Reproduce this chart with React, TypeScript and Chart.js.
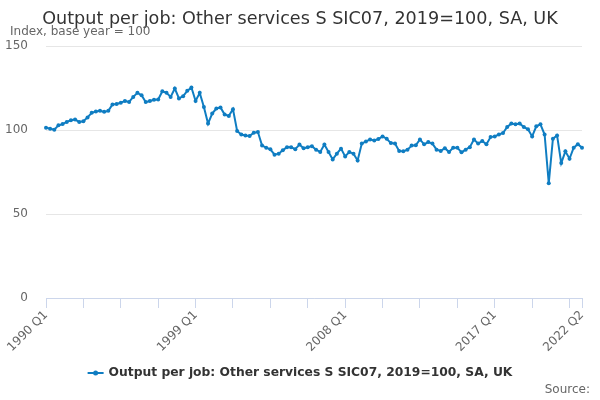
import { useEffect, useRef } from "react";
import { Chart, registerables } from "chart.js";

Chart.register(...registerables);

const chartTitle = "Output per job: Other services S SIC07, 2019=100, SA, UK";
const yAxisTitle = "Index, base year = 100";
const seriesName = "Output per job: Other services S SIC07, 2019=100, SA, UK";

const years = [
  1990, 1991, 1992, 1993, 1994, 1995, 1996, 1997, 1998, 1999, 2000, 2001, 2002, 2003, 2004, 2005, 2006,
  2007, 2008, 2009, 2010, 2011, 2012, 2013, 2014, 2015, 2016, 2017, 2018, 2019, 2020, 2021, 2022,
];
const quarters: string[] = years.flatMap((y) => [`${y} Q1`, `${y} Q2`, `${y} Q3`, `${y} Q4`]).slice(0, 130);

const shownLabels = ["1990 Q1", "1999 Q1", "2008 Q1", "2017 Q1", "2022 Q2"];

// 1990 Q1 .. 2022 Q2
const outputPerJob = [
  101.4, 100.8, 100.2, 102.8, 103.5, 104.8, 105.8, 106.2, 104.8, 105.2,
  107.5, 110.2, 111.0, 111.4, 110.8, 111.4, 115.2, 115.5, 116.2, 117.3,
  116.7, 119.7, 122.1, 120.7, 116.6, 117.3, 118.0, 118.2, 123.1, 122.1,
  119.7, 124.7, 118.8, 120.1, 123.3, 125.3, 117.3, 122.1, 113.7, 103.8,
  109.8, 112.8, 113.4, 109.2, 108.4, 112.4, 99.4, 97.3, 96.7, 96.4,
  98.4, 98.8, 90.7, 89.5, 88.5, 85.3, 85.9, 87.9, 89.8, 89.7,
  88.6, 91.3, 89.1, 89.8, 90.4, 88.3, 86.9, 91.3, 86.9, 82.5,
  85.9, 88.9, 84.3, 86.9, 85.9, 81.9, 91.9, 93.2, 94.3, 93.8,
  94.6, 96.2, 94.8, 92.2, 91.9, 87.5, 87.3, 88.3, 90.7, 90.9,
  94.4, 91.5, 92.8, 91.9, 88.3, 87.5, 89.2, 86.9, 89.5, 89.5,
  86.7, 88.3, 89.8, 94.4, 91.9, 93.5, 91.5, 95.8, 96.2, 97.3,
  98.2, 101.8, 103.8, 103.4, 103.8, 101.8, 100.4, 96.2, 102.2, 103.4,
  97.3, 68.3, 94.8, 96.8, 80.3, 87.3, 82.9, 89.5, 91.5, 89.5,
];

const lineColor = "#0f7dc2";

// title, axis title, legend and source line
const textPlugin = {
  id: "texts",
  afterDraw(chart: any) {
    const { ctx } = chart;
    ctx.save();
    ctx.fillStyle = "#333333";
    ctx.font = '17.6px "DejaVu Sans", sans-serif';
    ctx.textAlign = "center";
    ctx.textBaseline = "middle";
    ctx.fillText(chartTitle, 300, 19);

    ctx.fillStyle = "#666666";
    ctx.font = '12px "DejaVu Sans", sans-serif';
    ctx.textAlign = "left";
    ctx.fillText(yAxisTitle, 10, 32);
    ctx.textAlign = "right";
    ctx.fillText("Source:", 590, 390);

    // legend
    ctx.font = 'bold 12.3px "DejaVu Sans", sans-serif';
    const tw = ctx.measureText(seriesName).width;
    const total = 16 + 5 + tw;
    const x0 = 300 - total / 2;
    const ly = 373;
    ctx.strokeStyle = lineColor;
    ctx.lineWidth = 2;
    ctx.beginPath();
    ctx.moveTo(x0, ly);
    ctx.lineTo(x0 + 16, ly);
    ctx.stroke();
    ctx.fillStyle = lineColor;
    ctx.beginPath();
    ctx.arc(x0 + 8, ly, 2.5, 0, Math.PI * 2);
    ctx.fill();
    ctx.fillStyle = "#333333";
    ctx.textAlign = "left";
    ctx.fillText(seriesName, x0 + 21, ly);
    ctx.restore();
  },
};

export default function App() {
  const canvasRef = useRef<HTMLCanvasElement>(null);
  const chartRef = useRef<Chart | null>(null);

  useEffect(() => {
    if (!canvasRef.current) return;
    if (chartRef.current) chartRef.current.destroy();
    Chart.defaults.font.family = '"DejaVu Sans", sans-serif';

    chartRef.current = new Chart(canvasRef.current, {
      type: "line",
      data: {
        labels: quarters,
        datasets: [
          {
            label: seriesName,
            data: outputPerJob,
            borderColor: lineColor,
            backgroundColor: lineColor,
            borderWidth: 2,
            pointRadius: 2,
            pointBorderWidth: 0,
            pointStyle: "circle",
            tension: 0,
          },
        ],
      },
      options: {
        animation: false,
        responsive: false,
        maintainAspectRatio: false,
        layout: { padding: { top: 46, right: 18, bottom: 43, left: 0 } },
        plugins: {
          title: { display: false },
          tooltip: { enabled: false },
          legend: { display: false },
        },
        scales: {
          x: {
            type: "category",
            offset: false,
            afterFit: (s: any) => {
              s.height = 59;
            },
            border: { display: true, color: "#ccd6eb", width: 1 },
            grid: {
              drawOnChartArea: false,
              drawTicks: true,
              tickLength: 10,
              offset: false,
              color: (ctx: any) =>
                ctx.index % 9 === 0 || ctx.index === quarters.length - 1 ? "#ccd6eb" : "rgba(0,0,0,0)",
            },
            ticks: {
              autoSkip: false,
              maxRotation: 45,
              minRotation: 45,
              color: "#666666",
              font: { size: 12 },
              padding: 0,
              callback: (_v: any, i: number) => (shownLabels.includes(quarters[i]) ? quarters[i] : ""),
            },
          },
          y: {
            min: 0,
            max: 150,
            afterFit: (s: any) => {
              s.width = 46;
            },
            border: { display: false },
            grid: { color: "#e6e6e6", drawTicks: false },
            ticks: {
              stepSize: 50,
              color: "#666666",
              font: { size: 12 },
              padding: 18,
            },
          },
        },
      },
      plugins: [textPlugin],
    });

    return () => {
      if (chartRef.current) {
        chartRef.current.destroy();
        chartRef.current = null;
      }
    };
  }, []);

  return (
    <div style={{ position: "fixed", left: 0, top: 0, width: 600, height: 400, background: "#fff" }}>
      <canvas ref={canvasRef} width={600} height={400} />
    </div>
  );
}
